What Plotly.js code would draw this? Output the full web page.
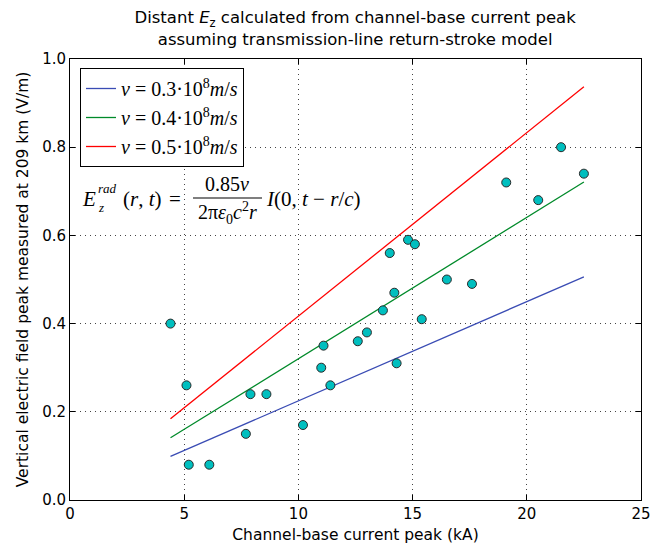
<!DOCTYPE html>
<html><head><meta charset="utf-8">
<script src="https://cdn.plot.ly/plotly-3.0.1.min.js"></script>
<style>body{margin:0;padding:0;background:#fff}#chart{width:651px;height:545px}</style>
</head><body><div id="chart"></div>
<script>
// Measured data
const currentPeak = [4.4, 5.1, 5.2, 6.1, 7.7, 7.9, 8.6, 10.2, 11.0, 11.1, 11.4, 12.6, 13.0, 13.7, 14.0, 14.2, 14.3, 14.8, 15.1, 15.4, 16.5, 17.6, 19.1, 20.5, 21.5, 22.5];
const fieldPeak   = [0.40, 0.26, 0.08, 0.08, 0.15, 0.24, 0.24, 0.17, 0.30, 0.35, 0.26, 0.36, 0.38, 0.43, 0.56, 0.47, 0.31, 0.59, 0.58, 0.41, 0.50, 0.49, 0.72, 0.68, 0.80, 0.74];
// Model lines
const lineX  = [4.4, 22.5];
const blueY  = [0.099, 0.506];
const greenY = [0.141, 0.721];
const redY   = [0.184, 0.937];
const legendNames = [
  '<i>v</i> = 0.3·10<sup>8</sup><i>m</i>/<i>s</i>',
  '<i>v</i> = 0.4·10<sup>8</sup><i>m</i>/<i>s</i>',
  '<i>v</i> = 0.5·10<sup>8</sup><i>m</i>/<i>s</i>'
];
const xTicks = [0, 5, 10, 15, 20, 25];
const yTicks = [0.0, 0.2, 0.4, 0.6, 0.8, 1.0];

const serif = 'Liberation Serif, DejaVu Serif, serif';
const sans = 'DejaVu Sans, sans-serif';
const traces = [
  {x: lineX, y: blueY, mode: 'lines', name: legendNames[0], line: {color: '#3a4cb4', width: 1.3}},
  {x: lineX, y: greenY, mode: 'lines', name: legendNames[1], line: {color: '#008a2a', width: 1.3}},
  {x: lineX, y: redY, mode: 'lines', name: legendNames[2], line: {color: '#ff0000', width: 1.3}},
  {x: currentPeak, y: fieldPeak, mode: 'markers', showlegend: false,
   marker: {color: '#00bfbf', size: 9, line: {color: '#2a2a2a', width: 1}}}
];

const W = 571, H = 441; // plot area size in px
const ox = 70, oy = 59;
function px(x){return (x - ox) / W;}
function py(y){return 1 - (y - oy) / H;}
function ann(text, x, y, size, xanchor){
  return {text: text, xref: 'paper', yref: 'paper', x: px(x), y: py(y),
    xanchor: xanchor || 'left', yanchor: 'middle', showarrow: false,
    font: {family: serif, size: size, color: '#000'}};
}
const annotations = [
  ann('<i>E</i>', 80, 199, 21),
  ann('<i>rad</i>', 96, 188, 13),
  ann('<i>z</i>', 96, 207, 13),
  ann('(<i>r</i>, <i>t</i>)', 121, 199, 21),
  ann('=', 167, 199, 21),
  ann('0.85<i>v</i>', 227, 184, 20, 'center'),
  ann('2π<i>ε</i><sub>0</sub><i>c</i><sup>2</sup><i>r</i>', 227, 213, 20, 'center'),
  ann('<i>I</i>(0, <i>t</i> − <i>r</i>/<i>c</i>)', 264, 199, 21)
];
const shapes = [
  {type: 'line', xref: 'paper', yref: 'paper', x0: px(193), x1: px(262), y0: py(198), y1: py(198),
   line: {color: '#000', width: 1.2}}
];

const axisCommon = {
  showline: true, linecolor: '#000', linewidth: 1, mirror: 'ticks',
  ticks: 'inside', ticklen: 5, tickcolor: '#000',
  showgrid: true, gridcolor: '#444', griddash: '1px,4px', gridwidth: 1,
  zeroline: false, tickfont: {family: sans, size: 15, color: '#000'},
  ticklabeloverflow: 'allow'
};
const layout = {
  width: 651, height: 545,
  margin: {l: 70, r: 10, t: 59, b: 45},
  paper_bgcolor: '#fff', plot_bgcolor: '#fff',
  title: {text: 'Distant <i>E</i><sub>z</sub> calculated from channel-base current peak<br>assuming transmission-line return-stroke model',
    font: {family: sans, size: 16.5, color: '#000'}, x: 0.5455, xanchor: 'center', y: 0.957, yanchor: 'top'},
  xaxis: Object.assign({}, axisCommon, {range: [0, 25], tickvals: xTicks, ticktext: xTicks.map(String),
    title: {text: 'Channel-base current peak (kA)', font: {family: sans, size: 15.5, color: '#000'}, standoff: 7}}),
  yaxis: Object.assign({}, axisCommon, {range: [0, 1.0], tickvals: yTicks, ticktext: yTicks.map(v => v.toFixed(1)),
    title: {text: 'Vertical electric field peak measured at 209 km (V/m)', font: {family: sans, size: 15.5, color: '#000'}, standoff: 9}}),
  legend: {x: px(80), y: py(68), xanchor: 'left', yanchor: 'top', bordercolor: '#000', borderwidth: 1,
    bgcolor: '#fff', font: {family: serif, size: 20, color: '#000'}, itemwidth: 30, tracegroupgap: 0},
  annotations: annotations, shapes: shapes, showlegend: true
};
Plotly.newPlot('chart', traces, layout, {displayModeBar: false, staticPlot: true});
</script></body></html>
